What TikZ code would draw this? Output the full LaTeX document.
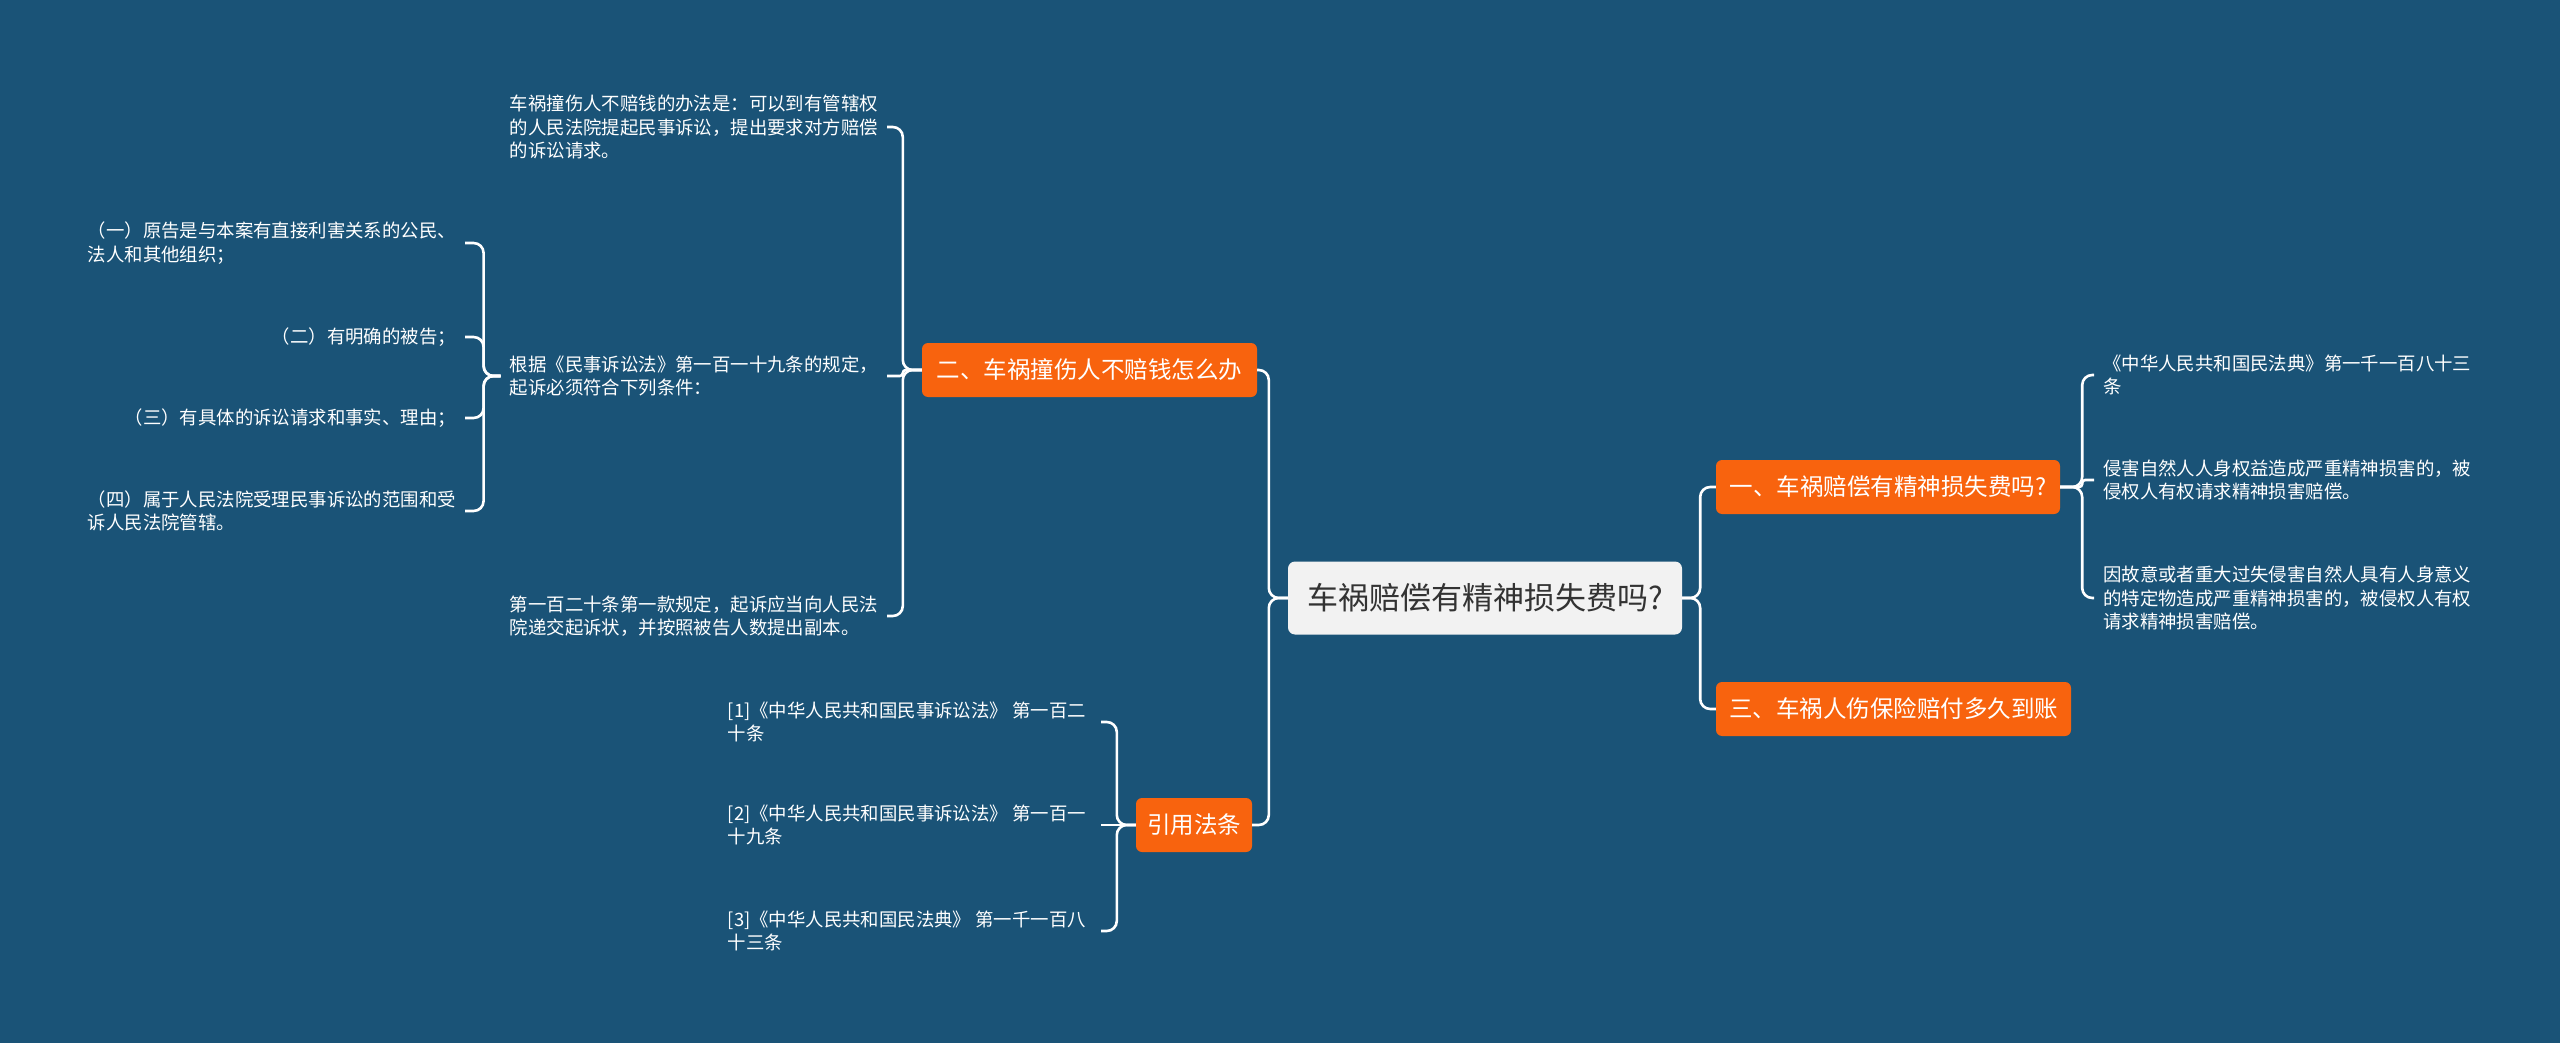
\documentclass[tikz,border=0pt]{standalone}
\usepackage{fontspec}
\setmainfont{Noto Sans CJK SC}
\definecolor{bgc}{HTML}{1A5377}
\definecolor{orangec}{HTML}{F8630E}
\definecolor{rootc}{HTML}{F2F2F2}
\definecolor{roottext}{HTML}{333333}
\tikzset{
  conn/.style={draw=white, line width=2.6pt, rounded corners=10pt},
  connsm/.style={draw=white, line width=2.6pt, rounded corners=3pt},
  leaf/.style={text=white, font=\fontsize{18.4}{23.5}\selectfont, align=left, inner xsep=9pt, inner ysep=3pt},
  topic/.style={fill=orangec, text=white, rounded corners=6pt, font=\fontsize{23.5}{28}\selectfont, minimum height=54pt, inner xsep=0pt, inner ysep=0pt},
  rootbox/.style={fill=rootc, text=roottext, rounded corners=7pt, font=\fontsize{31}{36}\selectfont, minimum height=73pt, minimum width=394pt, inner xsep=0pt}
}
\begin{document}
\begin{tikzpicture}[x=1pt, y=-1pt]
\fill[bgc] (0,0) rectangle (2560,1043);
\useasboundingbox (0,0) rectangle (2560,1043);

% main nodes
\node[rootbox] (root) at (1485,598) {车祸赔偿有精神损失费吗?};
\node[topic, minimum width=335pt] (b2) at (1089.5,370) {二、车祸撞伤人不赔钱怎么办};
\node[topic, minimum width=116pt] (bref) at (1194,825) {引用法条};
\node[topic, minimum width=344pt] (b1) at (1888,487) {一、车祸赔偿有精神损失费吗?};
\node[topic, minimum width=355pt] (b3) at (1893.5,709) {三、车祸人伤保险赔付多久到账};

% children of b2
\node[leaf, anchor=east] (m1) at (887,127) {车祸撞伤人不赔钱的办法是：可以到有管辖权\\的人民法院提起民事诉讼，提出要求对方赔偿\\的诉讼请求。};
\node[leaf, anchor=east] (m2) at (887,376) {根据《民事诉讼法》第一百一十九条的规定，\\起诉必须符合下列条件：};
\node[leaf, anchor=east] (m3) at (887,616) {第一百二十条第一款规定，起诉应当向人民法\\院递交起诉状，并按照被告人数提出副本。};

% children of m2
\node[leaf, anchor=east] (k1) at (465,243) {（一）原告是与本案有直接利害关系的公民、\\法人和其他组织；};
\node[leaf, anchor=east] (k2) at (465,337) {（二）有明确的被告；};
\node[leaf, anchor=east] (k3) at (465,418) {（三）有具体的诉讼请求和事实、理由；};
\node[leaf, anchor=east] (k4) at (465,511) {（四）属于人民法院受理民事诉讼的范围和受\\诉人民法院管辖。};

% children of bref
\node[leaf, anchor=east, inner xsep=15pt] (r1) at (1101,722) {[1]《中华人民共和国民事诉讼法》 第一百二\\十条};
\node[leaf, anchor=east, inner xsep=15pt] (r2) at (1101,825) {[2]《中华人民共和国民事诉讼法》 第一百一\\十九条};
\node[leaf, anchor=east, inner xsep=15pt] (r3) at (1101,931) {[3]《中华人民共和国民法典》 第一千一百八\\十三条};

% children of b1
\node[leaf, anchor=west] (a1) at (2094,375) {《中华人民共和国民法典》第一千一百八十三\\条};
\node[leaf, anchor=west] (a2) at (2094,480) {侵害自然人人身权益造成严重精神损害的，被\\侵权人有权请求精神损害赔偿。};
\node[leaf, anchor=west] (a3) at (2094,598) {因故意或者重大过失侵害自然人具有人身意义\\的特定物造成严重精神损害的，被侵权人有权\\请求精神损害赔偿。};

% connectors
\draw[conn] (root.west) -- ++(-19,0) |- (b2.east);
\draw[conn] (root.west) -- ++(-19,0) |- (bref.east);
\draw[conn] (root.east) -- ++(18,0) |- (b1.west);
\draw[conn] (root.east) -- ++(18,0) |- (b3.west);

\draw[conn] (b2.west) -- ++(-19,0) |- (m1.east);
\draw[connsm] (b2.west) -- ++(-19,0) |- (m2.east);
\draw[conn] (b2.west) -- ++(-19,0) |- (m3.east);

\draw[conn] (m2.west) -- ++(-17,0) |- (k1.east);
\draw[conn] (m2.west) -- ++(-17,0) |- (k2.east);
\draw[conn] (m2.west) -- ++(-17,0) |- (k3.east);
\draw[conn] (m2.west) -- ++(-17,0) |- (k4.east);

\draw[conn] (bref.west) -- ++(-19,0) |- (r1.east);
\draw[draw=white, line width=2.6pt] (bref.west) -- (r2.east);
\draw[conn] (bref.west) -- ++(-19,0) |- (r3.east);

\draw[conn] (b1.east) -- ++(22,0) |- (a1.west);
\draw[connsm] (b1.east) -- ++(22,0) |- (a2.west);
\draw[conn] (b1.east) -- ++(22,0) |- (a3.west);
\end{tikzpicture}
\end{document}
